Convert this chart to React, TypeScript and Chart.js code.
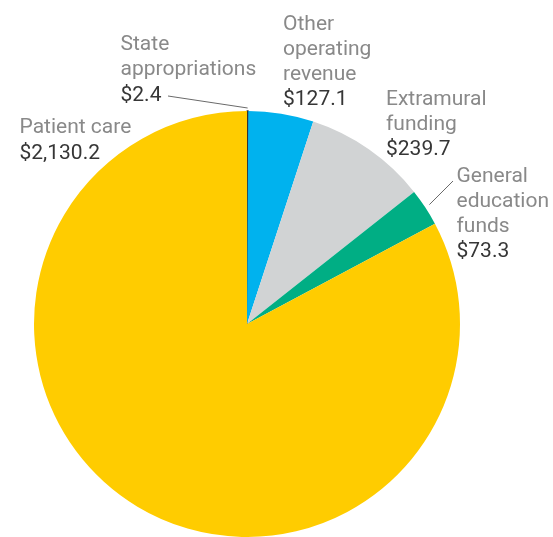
import React, { useEffect, useRef } from "react";
import { Chart, registerables } from "chart.js";

Chart.register(...registerables);

const categories = [
  "State appropriations",
  "Other operating revenue",
  "Extramural funding",
  "General education funds",
  "Patient care",
];
const values = [2.4, 127.1, 239.7, 73.3, 2130.2];
const valueLabels = ["$2.4", "$127.1", "$239.7", "$73.3", "$2,130.2"];
const nameLines = [
  ["State", "appropriations"],
  ["Other", "operating", "revenue"],
  ["Extramural", "funding"],
  ["General", "education", "funds"],
  ["Patient care"],
];
const colors = ["#333333", "#00B2EE", "#D1D3D4", "#00AE84", "#FFCC00"];
const borderWidths = [1.5, 0, 0, 0, 0];

// label placement (left x, first baseline) and optional leader line start
const labelLayout = [
  { x: 120.5, y: 50, leader: { x: 168, y: 96, gap: 3 } },
  { x: 283, y: 29.5 },
  { x: 386, y: 104.5 },
  { x: 456.5, y: 181.5, leader: { x: 453, y: 181, gap: 5 } },
  { x: 19.5, y: 133.3 },
];

const labelPlugin = {
  id: "sliceLabels",
  afterDatasetsDraw(chart: any) {
    const ctx = chart.ctx as CanvasRenderingContext2D;
    const meta = chart.getDatasetMeta(0);
    ctx.save();
    ctx.font = '21px Roboto, "Noto Sans", sans-serif';
    ctx.textBaseline = "alphabetic";
    ctx.textAlign = "left";
    meta.data.forEach((arc: any, i: number) => {
      const lay = labelLayout[i];
      const lines = nameLines[i];
      const lh = 25;
      ctx.fillStyle = "#898989";
      lines.forEach((t, k) => ctx.fillText(t, lay.x, lay.y + k * lh));
      ctx.fillStyle = "#363636";
      ctx.fillText(valueLabels[i], lay.x, lay.y + lines.length * lh + 0.5);
      if (lay.leader) {
        const mid = (arc.startAngle + arc.endAngle) / 2;
        const r = arc.outerRadius + lay.leader.gap;
        const ex = arc.x + Math.cos(mid) * r;
        const ey = arc.y + Math.sin(mid) * r;
        ctx.strokeStyle = "#6a6a6a";
        ctx.lineWidth = 1;
        ctx.beginPath();
        ctx.moveTo(lay.leader.x, lay.leader.y);
        ctx.lineTo(ex, ey);
        ctx.stroke();
      }
    });
    ctx.restore();
  },
};

export default function App() {
  const ref = useRef<HTMLCanvasElement | null>(null);
  useEffect(() => {
    if (!ref.current) return;
    const chart = new Chart(ref.current, {
      type: "pie",
      data: {
        labels: categories,
        datasets: [
          {
            data: values,
            backgroundColor: colors,
            borderColor: colors,
            borderWidth: borderWidths,
          },
        ],
      },
      options: {
        animation: false,
        responsive: false,
        devicePixelRatio: 1,
        radius: 213,
        layout: { padding: { left: 34, top: 111, right: 93, bottom: 0 } },
        plugins: {
          legend: { display: false },
          tooltip: { enabled: false },
        },
        events: [],
      },
      plugins: [labelPlugin],
    });
    return () => chart.destroy();
  }, []);
  return (
    <div
      style={{
        position: "fixed",
        left: 0,
        top: 0,
        width: 553,
        height: 537,
        overflow: "hidden",
        background: "#fff",
      }}
    >
      <canvas ref={ref} width={553} height={537} style={{ display: "block" }} />
    </div>
  );
}
